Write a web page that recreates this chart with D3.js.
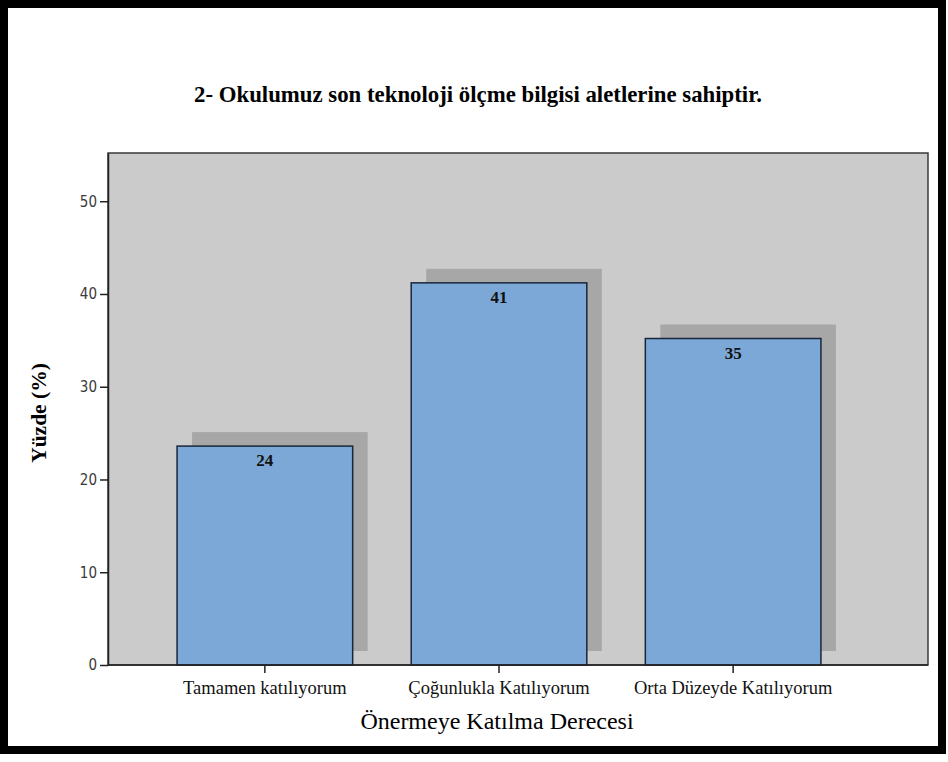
<!DOCTYPE html>
<html>
<head>
<meta charset="utf-8">
<script src="https://cdn.jsdelivr.net/npm/d3@7"></script>
<style>
  html, body { margin: 0; padding: 0; background: #ffffff; }
  svg { display: block; }
</style>
</head>
<body>
<svg id="chart" width="948" height="762"></svg>
<script>
// Response categories and their percentages
const categories = ["Tamamen katılıyorum", "Çoğunlukla Katılıyorum", "Orta Düzeyde Katılıyorum"];
const percents = [23.6, 41.2, 35.2];
const yTicks = [0, 10, 20, 30, 40, 50];

const titleText = "2- Okulumuz son teknoloji ölçme bilgisi aletlerine sahiptir.";
const yTitle = "Yüzde (%)";
const xTitle = "Önermeye Katılma Derecesi";

const W = 948, H = 762;
const plot = { left: 108, top: 153, right: 928, bottom: 665 };
const shadowDx = 15, shadowDy = -14;
const serif = "'Liberation Serif', 'Times New Roman', serif";

const svg = d3.select("#chart");

// outer frame
svg.append("rect")
  .attr("x", 4).attr("y", 4)
  .attr("width", W - 10).attr("height", H - 16)
  .attr("fill", "#ffffff")
  .attr("stroke", "#000000")
  .attr("stroke-width", 8);

const x = d3.scaleBand()
  .domain(categories)
  .range([plot.left, 890])
  .paddingInner(0.25)
  .paddingOuter(0.295);

const y = d3.scaleLinear()
  .domain([0, 55.2])
  .range([plot.bottom, plot.top]);

// plot background
svg.append("rect")
  .attr("x", plot.left).attr("y", plot.top)
  .attr("width", plot.right - plot.left)
  .attr("height", plot.bottom - plot.top)
  .attr("fill", "#cbcbcb")
  .attr("stroke", "#3a3a3a")
  .attr("stroke-width", 1.5);

const data = categories.map((c, i) => ({ c, v: percents[i] }));

// drop shadows behind bars
svg.append("g").selectAll("rect")
  .data(data).join("rect")
  .attr("x", d => x(d.c) + shadowDx)
  .attr("y", d => y(d.v) + shadowDy)
  .attr("width", x.bandwidth())
  .attr("height", d => y(0) - y(d.v))
  .attr("fill", "#a7a7a7");

// bars
svg.append("g").selectAll("rect")
  .data(data).join("rect")
  .attr("x", d => x(d.c))
  .attr("y", d => y(d.v))
  .attr("width", x.bandwidth())
  .attr("height", d => y(0) - y(d.v))
  .attr("fill", "#7ba8d6")
  .attr("stroke", "#1a2638")
  .attr("stroke-width", 1.5);

// value labels
svg.append("g").selectAll("text")
  .data(data).join("text")
  .attr("x", d => x(d.c) + x.bandwidth() / 2)
  .attr("y", d => y(d.v) + 20)
  .attr("text-anchor", "middle")
  .attr("font-family", serif)
  .attr("font-weight", "bold")
  .attr("font-size", 17)
  .attr("fill", "#111111")
  .text(d => d3.format(".0f")(d.v));

// y axis
const yAxis = svg.append("g")
  .attr("transform", `translate(${plot.left},0)`)
  .call(d3.axisLeft(y).tickValues(yTicks).tickSize(8).tickSizeOuter(0)
    .tickPadding(3).tickFormat(d3.format("d")));
yAxis.select(".domain").attr("stroke", "#222").attr("stroke-width", 1.5);
yAxis.selectAll(".tick line").attr("stroke", "#222").attr("stroke-width", 1.5);
yAxis.selectAll(".tick text")
  .attr("font-family", "'DejaVu Sans Condensed', 'DejaVu Sans', Tahoma, sans-serif")
  .attr("font-size", 15)
  .attr("fill", "#3a3a3a");

// x axis
const xAxis = svg.append("g")
  .attr("transform", `translate(0,${plot.bottom})`)
  .call(d3.axisBottom(x).tickSize(8).tickSizeOuter(0).tickPadding(8));
xAxis.select(".domain").remove();
xAxis.selectAll(".tick line").attr("stroke", "#222").attr("stroke-width", 1.5);
xAxis.selectAll(".tick text")
  .attr("font-family", serif)
  .attr("font-size", 18.5)
  .attr("fill", "#111");

// baseline across full plot width
svg.append("line")
  .attr("x1", plot.left).attr("x2", plot.right)
  .attr("y1", plot.bottom).attr("y2", plot.bottom)
  .attr("stroke", "#222").attr("stroke-width", 1.5);

// title
svg.append("text")
  .attr("x", 478).attr("y", 102)
  .attr("text-anchor", "middle")
  .attr("font-family", serif)
  .attr("font-weight", "bold")
  .attr("font-size", 22.8)
  .attr("fill", "#000")
  .text(titleText);

// axis titles
svg.append("text")
  .attr("transform", `translate(46,${(plot.top + plot.bottom) / 2 + 4}) rotate(-90)`)
  .attr("text-anchor", "middle")
  .attr("font-family", serif)
  .attr("font-weight", "bold")
  .attr("font-size", 21.5)
  .attr("fill", "#000")
  .text(yTitle);

svg.append("text")
  .attr("x", 497).attr("y", 729)
  .attr("text-anchor", "middle")
  .attr("font-family", serif)
  .attr("font-size", 24)
  .attr("fill", "#000")
  .text(xTitle);
</script>
</body>
</html>
